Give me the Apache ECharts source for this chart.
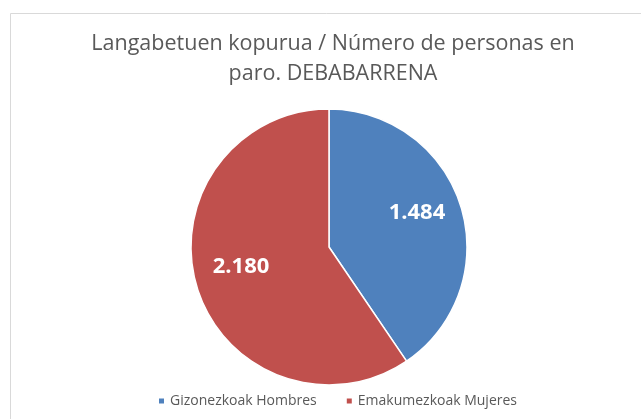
<!DOCTYPE html>
<html>
<head>
<meta charset="utf-8">
<script src="https://cdn.jsdelivr.net/npm/echarts@6/dist/echarts.min.js"></script>
<style>
  html, body { margin: 0; padding: 0; background: #fff; }
  #main { width: 641px; height: 419px; }
</style>
</head>
<body>
<div id="main"></div>
<script>
var titleText = 'Langabetuen kopurua / Número de personas en\nparo. DEBABARRENA';
var categories = ['Gizonezkoak Hombres', 'Emakumezkoak Mujeres'];
var values = [1484, 2180];
var colors = ['#4F81BD', '#C0504D'];

function fmt(v) {
    return String(v).replace(/\B(?=(\d{3})+(?!\d))/g, '.');
}

var pieData = categories.map(function (c, i) {
    return { name: c, value: values[i], itemStyle: { color: colors[i] } };
});
var labelData = categories.map(function (c, i) {
    return { name: c, value: values[i] };
});

var chart = echarts.init(document.getElementById('main'));
chart.setOption({
    animation: false,
    title: {
        text: titleText,
        left: 328,
        textAlign: 'center',
        top: 24,
        textStyle: {
            fontFamily: 'Open Sans',
            fontWeight: 'normal',
            fontSize: 21.5,
            color: '#595959',
            lineHeight: 30
        }
    },
    legend: {
        bottom: 6,
        left: 152,
        itemWidth: 7,
        itemHeight: 7,
        itemGap: 28,
        icon: 'rect',
        textStyle: { fontFamily: 'Open Sans', fontSize: 14, color: '#595959' },
        data: categories
    },
    graphic: [{
        type: 'rect',
        shape: { x: 10.5, y: 13.5, width: 700, height: 500 },
        style: { fill: 'none', stroke: '#d9d9d9', lineWidth: 1 },
        silent: true
    }],
    series: [{
        type: 'pie',
        center: [329, 247],
        radius: [0, 138],
        startAngle: 90,
        clockwise: true,
        label: { show: false },
        labelLine: { show: false },
        itemStyle: { borderColor: '#fff', borderWidth: 1.5 },
        emphasis: { disabled: true },
        data: pieData
    }, {
        type: 'pie',
        center: [329, 247],
        radius: [0, 178],
        startAngle: 90,
        clockwise: true,
        silent: true,
        itemStyle: { color: 'rgba(0,0,0,0)' },
        label: {
            show: true,
            position: 'inside',
            offset: [0, -7],
            formatter: function (p) { return fmt(p.value); },
            fontFamily: 'Open Sans',
            fontWeight: 'bold',
            fontSize: 22,
            color: '#fff'
        },
        labelLine: { show: false },
        emphasis: { disabled: true },
        data: labelData
    }]
});
</script>
</body>
</html>
